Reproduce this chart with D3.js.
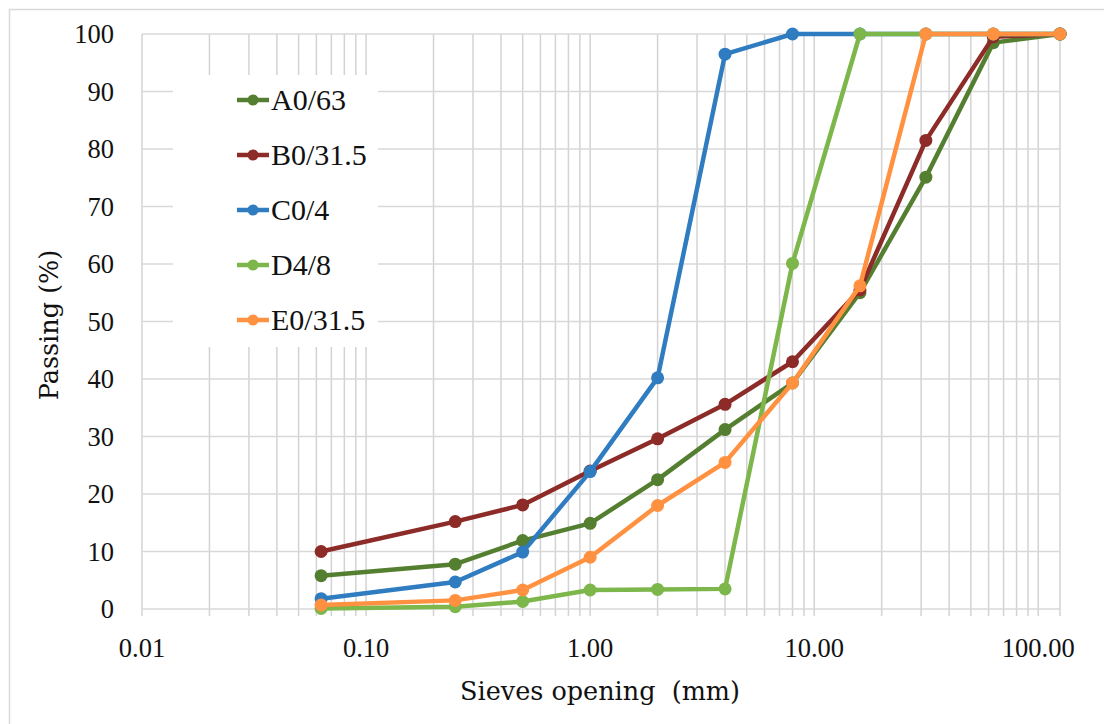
<!DOCTYPE html>
<html>
<head>
<meta charset="utf-8">
<script src="https://cdn.jsdelivr.net/npm/d3@7"></script>
<style>
body { margin: 0; background: #fff; }
</style>
</head>
<body>
<script>
var w = 1104;
var h = 724;

var sieves = [0.063, 0.25, 0.5, 1, 2, 4, 8, 16, 31.5, 63, 125];
var seriesNames = ["A0/63", "B0/31.5", "C0/4", "D4/8", "E0/31.5"];
var seriesColors = ["#557f30", "#8c2b27", "#2f7cc0", "#7db64a", "#ff9140"];
var passA = [5.8, 7.8, 11.9, 14.9, 22.5, 31.2, 39.3, 55.0, 75.1, 98.5, 100];
var passB = [10.0, 15.2, 18.1, 24.0, 29.6, 35.6, 43.0, 55.5, 81.5, 99.5, 100];
var passC = [1.8, 4.7, 9.9, 23.9, 40.2, 96.5, 100, 100, 100, 100, 100];
var passD = [0.1, 0.4, 1.3, 3.3, 3.4, 3.5, 60.1, 100, 100, 100, 100];
var passE = [0.7, 1.5, 3.3, 9.0, 18.0, 25.5, 39.3, 56.2, 100, 100, 100];
var yTicks = [0, 10, 20, 30, 40, 50, 60, 70, 80, 90, 100];
var xLabels = [0.01, 0.1, 1, 10, 100];

var allPass = [passA, passB, passC, passD, passE];
var serif = "'Liberation Serif', 'Times New Roman', serif";

var svg = d3.select("body").append("svg")
    .attr("width", w)
    .attr("height", h);

svg.append("rect")
    .attr("x", 9.5).attr("y", 9.5)
    .attr("width", w).attr("height", h)
    .attr("fill", "#fff")
    .attr("stroke", "#d9d9d9").attr("stroke-width", 1.5);

var x = d3.scaleLog().domain([0.01, 125]).range([142, 1060]);
var y = d3.scaleLinear().domain([0, 100]).range([609, 34]);

var grid = svg.append("g");
var xt = x.ticks().concat([125]);

grid.selectAll(".vg")
    .data(xt)
    .enter().append("line")
    .attr("x1", function(d) { return x(d); })
    .attr("x2", function(d) { return x(d); })
    .attr("y1", y(100))
    .attr("y2", y(0) + 7)
    .attr("stroke", "#d3d3d3").attr("stroke-width", 1.5);

grid.selectAll(".hg")
    .data(yTicks)
    .enter().append("line")
    .attr("x1", x(0.01))
    .attr("x2", x(125))
    .attr("y1", function(d) { return y(d); })
    .attr("y2", function(d) { return y(d); })
    .attr("stroke", "#d9d9d9").attr("stroke-width", 1.5);

svg.selectAll(".ylab")
    .data(yTicks)
    .enter().append("text")
    .attr("x", 114)
    .attr("y", function(d) { return y(d); })
    .attr("dy", "0.34em")
    .attr("text-anchor", "end")
    .attr("font-family", serif)
    .attr("font-size", 26.5)
    .attr("fill", "#111")
    .text(function(d) { return d; });

svg.selectAll(".xlab")
    .data(xLabels)
    .enter().append("text")
    .attr("x", function(d) { return x(d); })
    .attr("y", 657)
    .attr("text-anchor", "middle")
    .attr("font-family", serif)
    .attr("font-size", 26.5)
    .attr("fill", "#111")
    .text(d3.format(".2f"));

svg.append("text")
    .attr("x", 600).attr("y", 700)
    .attr("text-anchor", "middle")
    .attr("font-family", "DejaVu Serif")
    .attr("font-size", 25.5)
    .attr("fill", "#111")
    .style("white-space", "pre")
    .text("Sieves opening  (mm)");

svg.append("text")
    .attr("transform", "translate(58,325) rotate(-90)")
    .attr("text-anchor", "middle")
    .attr("font-family", "DejaVu Serif")
    .attr("font-size", 25.5)
    .attr("fill", "#111")
    .text("Passing (%)");

// legend box hides the grid behind it
svg.append("rect")
    .attr("x", 173).attr("y", 75)
    .attr("width", 205).attr("height", 272)
    .attr("fill", "#fff");

var line = d3.line()
    .x(function(d, i) { return x(sieves[i]); })
    .y(function(d) { return y(d); });

var series = svg.selectAll(".series")
    .data(allPass)
    .enter().append("g");

series.append("path")
    .attr("d", line)
    .attr("fill", "none")
    .attr("stroke", function(d, i) { return seriesColors[i]; })
    .attr("stroke-width", 4.5)
    .attr("stroke-linejoin", "round");

series.each(function(d, i) {
    d3.select(this).selectAll("circle")
        .data(d)
        .enter().append("circle")
        .attr("cx", function(v, j) { return x(sieves[j]); })
        .attr("cy", function(v) { return y(v); })
        .attr("r", 6.5)
        .attr("fill", seriesColors[i]);
});

var leg = svg.selectAll(".leg")
    .data(seriesNames)
    .enter().append("g")
    .attr("transform", function(d, i) { return "translate(0," + (100 + i * 55) + ")"; });

leg.append("line")
    .attr("x1", 237).attr("x2", 269)
    .attr("stroke", function(d, i) { return seriesColors[i]; })
    .attr("stroke-width", 4.5);

leg.append("circle")
    .attr("cx", 253).attr("r", 5.5)
    .attr("fill", function(d, i) { return seriesColors[i]; });

leg.append("text")
    .attr("x", 271)
    .attr("dy", "0.34em")
    .attr("font-family", serif)
    .attr("font-size", 30)
    .attr("fill", "#111")
    .text(function(d) { return d; });
</script>
</body>
</html>
